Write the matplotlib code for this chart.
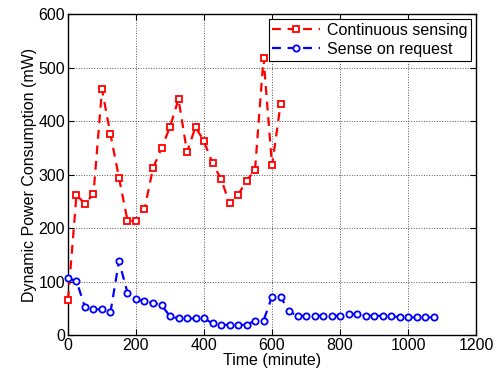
import matplotlib
matplotlib.use('Agg')
import matplotlib.pyplot as plt

# Time axis (minutes)
t_cont = [0, 25, 50, 75, 100, 125, 150, 175, 200, 225, 250, 275, 300, 325,
          350, 375, 400, 425, 450, 475, 500, 525, 550, 575, 600, 625]
p_cont = [65, 262, 245, 264, 459, 375, 294, 214, 213, 235, 312, 349, 389, 441,
          342, 389, 362, 321, 292, 246, 262, 288, 309, 518, 317, 431]

t_req = [0, 25, 50, 75, 100, 125, 150, 175, 200, 225, 250, 275, 300, 325,
         350, 375, 400, 425, 450, 475, 500, 525, 550, 575, 600, 625, 650,
         675, 700, 725, 750, 775, 800, 825, 850, 875, 900, 925, 950, 975,
         1000, 1025, 1050, 1075]
p_req = [106, 101, 52, 48, 48, 43, 138, 79, 67, 63, 60, 56, 35, 31,
         31, 31, 31, 22, 19, 19, 19, 19, 27, 27, 72, 72, 44,
         36, 36, 36, 36, 36, 36, 39, 39, 36, 36, 36, 36, 33,
         33, 33, 33, 33]

plt.rcParams['font.family'] = ['Liberation Sans', 'DejaVu Sans']
plt.rcParams['font.size'] = 11.5

fig = plt.figure(figsize=(4.98, 3.79), dpi=100)
ax = fig.add_axes([0.1365, 0.116, 0.8195, 0.847])

ax.plot(t_cont, p_cont, '--s', color='red', lw=1.6, ms=4.5, mfc='white',
        mec='red', mew=1.3, dashes=(4, 3), label='Continuous sensing',
        clip_on=False, zorder=3)
ax.plot(t_req, p_req, '--o', color='blue', lw=1.6, ms=4.5, mfc='white',
        mec='blue', mew=1.3, dashes=(4, 3), label='Sense on request',
        clip_on=False, zorder=3)

ax.set_xlim(0, 1200)
ax.set_ylim(0, 600)
ax.set_xticks(range(0, 1201, 200))
ax.set_yticks(range(0, 601, 100))
ax.grid(True, linestyle=':', color='#555555', linewidth=0.7)
ax.tick_params(direction='in', top=True, right=True, length=4, width=0.8,
               pad=2)
for s in ax.spines.values():
    s.set_linewidth(1.0)

ax.set_xlabel('Time (minute)', labelpad=0)
ax.set_ylabel('Dynamic Power Consumption (mW)', labelpad=1)

leg = ax.legend(loc='upper right', handlelength=3.0, borderaxespad=0.3,
                fancybox=False, framealpha=1, edgecolor='black',
                borderpad=0.25, labelspacing=0.25, handletextpad=0.4)
leg.set_zorder(5)
leg.get_frame().set_linewidth(0.8)

fig.savefig('out.png', dpi=100)
